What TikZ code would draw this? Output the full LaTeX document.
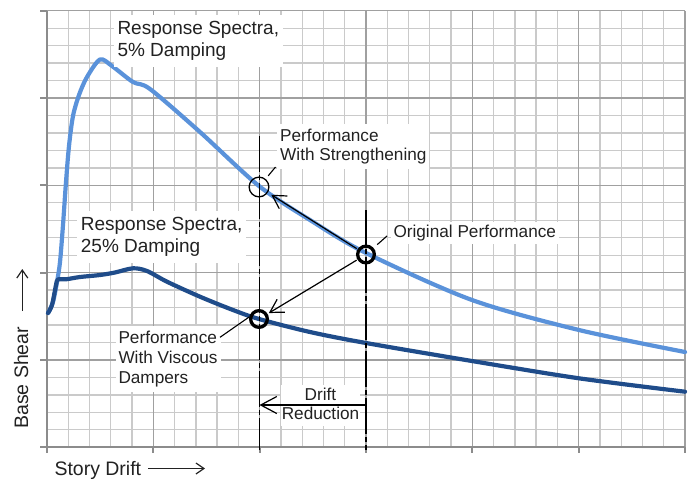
\documentclass[tikz,border=0pt]{standalone}
\usepackage{fontspec}
\setmainfont{Liberation Sans}
\usetikzlibrary{arrows.meta}
\definecolor{minorgrid}{HTML}{CACACA}
\definecolor{majorgrid}{HTML}{A0A0A0}
\definecolor{axisgray}{HTML}{8C8C8C}
\definecolor{lightcurve}{HTML}{5A92DA}
\definecolor{darkcurve}{HTML}{1F4C8A}
\definecolor{txt}{HTML}{222222}

\begin{document}
\begin{tikzpicture}[x=1pt,y=-1pt,
  minorline/.style={minorgrid,line width=1.3pt},
  majorline/.style={majorgrid,line width=1.5pt},
  axisline/.style={axisgray,line width=2pt},
  curve/.style={line width=4.2pt,line cap=round,line join=round},
  titlelbl/.style={fill=white,inner sep=4pt,anchor=base west,text=txt,
    font=\fontsize{19}{22}\selectfont},
  notelbl/.style={fill=white,inner sep=3pt,anchor=base west,text=txt,
    font=\fontsize{17.2}{19.5}\selectfont},
  axislbl/.style={inner sep=0pt,anchor=base west,text=txt,
    font=\fontsize{19.5}{22}\selectfont},
  ring/.style={circle,draw=black,inner sep=0pt,fill=none},
  thinring/.style={ring,line width=1.3pt,minimum size=19.7pt},
  thickring/.style={ring,line width=3.3pt,minimum size=16.7pt},
  conn/.style={-{Straight Barb[length=13pt,width=15pt]},line width=1.2pt,black},
  leader/.style={line width=1.1pt,black},
  guide/.style={line width=1.3pt,black,dash pattern=on 36pt off 3pt on 5pt off 3pt},
  axisarrow/.style={-{Straight Barb[length=8pt,width=11pt]},line width=1.2pt,txt}]
\useasboundingbox (0,0) rectangle (692,480);

% minor grid (column 21.2667, row 17.464)
\foreach \i in {1,...,29}
  \draw[minorline] ({47+\i*21.2667},10.7) -- ({47+\i*21.2667},447.3);
\foreach \j in {1,...,24}
  \draw[minorline] (47,{10.7+\j*17.464}) -- (685,{10.7+\j*17.464});
% major grid
\foreach \i in {5,10,...,30}
  \draw[majorline] ({47+\i*21.2667},10.7) -- ({47+\i*21.2667},447.3);
\foreach \j in {0,5,10,15,20}
  \draw[majorline] (47,{10.7+\j*17.464}) -- (685,{10.7+\j*17.464});
% axes and ticks
\draw[axisline] (47,10.7) -- (47,447.3) -- (685,447.3);
\foreach \j in {0,5,...,25}
  \draw[axisline] (40,{10.7+\j*17.464}) -- (47,{10.7+\j*17.464});
\foreach \i in {0,5,...,30}
  \draw[axisline] ({47+\i*21.2667},447.3) -- ({47+\i*21.2667},453);

% 5% damping spectrum
\draw[curve,lightcurve] plot[smooth,tension=0.5] coordinates {
  (48,313) (53,302) (57,282) (60,262) (63,225) (66,182) (69,146) (73,116)
  (79,95) (87,77) (100,59.5) (112,66) (133,82) (150,89) (200,132)
  (259,186) (310,220) (366,253) (472,300) (579,330) (685,352)};
% 25% damping spectrum
\draw[curve,darkcurve] plot[smooth,tension=0.5] coordinates {
  (48,313) (52,305) (56,285) (58,279.5) (66,279.3) (80,277) (100,275)
  (115,272.5) (133,268.3) (147,271) (167,281.7) (200,296.7) (233,310)
  (259,319) (310,332) (366,343) (472,361) (579,378.3) (685,391.7)};

% labels
\node[titlelbl] (t5) at (113.3,34) {\begin{tabular}[t]{@{}l@{}}Response Spectra,\\5\% Damping\end{tabular}};
\node[titlelbl] (t25) at (76.7,230) {\begin{tabular}[t]{@{}l@{}}Response Spectra,\\25\% Damping\end{tabular}};
\node[notelbl] (lstrong) at (277,141) {\begin{tabular}[t]{@{}l@{}}Performance\\With Strengthening\end{tabular}};
\node[notelbl] (lorig) at (390.3,237.7) {Original Performance};
\node[notelbl,font=\fontsize{17.2}{20}\selectfont] (lvisc) at (115.3,343.3) {\begin{tabular}[t]{@{}l@{}}Performance\\With Viscous\\Dampers\end{tabular}};
\node[notelbl,anchor=base,inner sep=1pt] (ldrift) at (320.5,400) {\begin{tabular}[t]{@{}c@{}}Drift\\Reduction\end{tabular}};

% drift guide lines
\coordinate (gAtop) at (259.5,136);
\coordinate (gAbot) at (259.5,450);
\coordinate (gBtop) at (366,210);
\coordinate (gBbot) at (366,450);
\draw[guide] (gAtop) -- (gAbot);
\draw[guide] (gBtop) -- (gBbot);
\coordinate (drR) at (366,405);
\coordinate (drL) at (259.5,405);
\draw[-{Straight Barb[length=16pt,width=17pt]},line width=1.2pt] (drR) -- (drL);

% performance points
\node[thinring] (strong) at (259,187) {};
\node[thickring] (orig) at (366,254.5) {};
\node[thickring] (visc) at (259,319) {};

\draw[conn,shorten <=1pt,shorten >=4pt] (orig) -- (strong);
\draw[conn,shorten <=1pt,shorten >=1.5pt] (orig) -- (visc);

% leaders
\coordinate (ls) at (275.5,167);
\coordinate (lo) at (387,236);
\coordinate (lv) at (220,337.3);
\draw[leader,shorten >=4pt] (ls) -- (strong);
\draw[leader,shorten >=5pt] (lo) -- (orig);
\draw[leader] (lv) -- (visc.168);

% axis titles
\node[axislbl] (xlab) at (54.3,475.3) {Story Drift};
\coordinate (xa0) at (148,468.5);
\coordinate (xa1) at (205,468.5);
\draw[axisarrow] (xa0) -- (xa1);
\node[axislbl,rotate=90] (ylab) at (28,429) {Base Shear};
\coordinate (ya0) at (22.3,311);
\coordinate (ya1) at (22.3,269);
\draw[axisarrow] (ya0) -- (ya1);
\end{tikzpicture}
\end{document}
